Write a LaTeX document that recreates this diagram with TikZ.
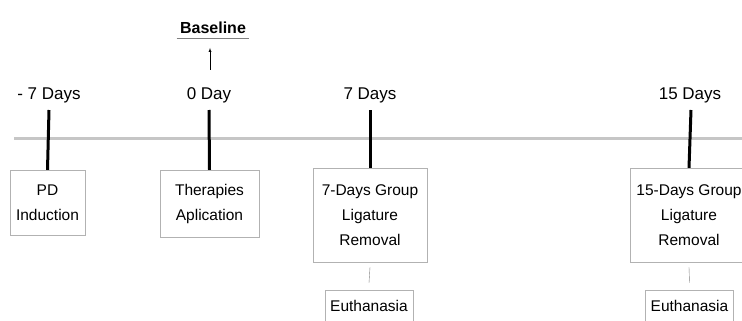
\documentclass[tikz,border=0pt]{standalone}
\usepackage{fontspec}
\setmainfont{Liberation Sans}
\usetikzlibrary{positioning, arrows.meta}

\begin{document}
\begin{tikzpicture}[x=1pt, y=-1pt, >=latex,
    box/.style={draw=gray!60, thin, rectangle, align=center, font=\fontsize{15.5}{25}\selectfont, inner sep=2pt},
    daylabel/.style={font=\fontsize{17}{20}\selectfont},
    tick/.style={line width=3pt, black},
    link/.style={draw=gray, thin}]
        \useasboundingbox (0,0) rectangle (742,321);

        % timeline
        \coordinate (start) at (14,138);
        \coordinate (end) at (760,138);
        \draw[line width=3pt, gray!45] (start) -- (end);

        % day labels and tick tops
        \node[daylabel] (dm7) at (49,95) {- 7 Days};
        \node[daylabel] (d0) at (209,95) {0 Day};
        \node[daylabel] (d7) at (370,95) {7 Days};
        \node[daylabel] (d15) at (690,95) {15 Days};
        \coordinate (tm7) at (49,110);
        \coordinate (t0) at (209,110);
        \coordinate (t7) at (370,110);
        \coordinate (t15) at (691,110);

        % baseline
        \node[font=\fontsize{16}{19}\selectfont\bfseries] (base) at (213,28) {Baseline};
        \draw[gray] ([yshift=-1pt]base.south west) -- ([yshift=-1pt]base.south east);
        \coordinate (arrowfoot) at (210,70);
        \draw[->, thin] (arrowfoot) -- (210,48);

        % boxes
        \node[box, minimum width=75, minimum height=65] (pd) at (47.5,202.5) {PD\\Induction};
        \node[box, minimum width=99, minimum height=67] (ther) at (209.5,203.5) {Therapies\\Aplication};
        \node[box, minimum width=114, minimum height=94] (g7) at (370,215) {7-Days Group\\Ligature\\Removal};
        \node[box, minimum width=118, minimum height=94] (g15) at (689,215) {15-Days Group\\Ligature\\Removal};
        \node[box, minimum width=88, minimum height=32] (eu7) at (369,306) {Euthanasia};
        \node[box, minimum width=88, minimum height=32] (eu15) at (689.5,306) {Euthanasia};

        % ticks
        \draw[tick] (tm7) -- (pd.north);
        \draw[tick] (t0) -- (ther.north);
        \draw[tick] (t7) -- (g7.north);
        \draw[tick] (t15) -- (g15.north);

        \draw[link] ([yshift=-5pt]g7.south) -- ([yshift=7pt]eu7.north);
        \draw[link] ([yshift=-5pt]g15.south) -- ([yshift=7pt]eu15.north);
    \end{tikzpicture}
\end{document}
